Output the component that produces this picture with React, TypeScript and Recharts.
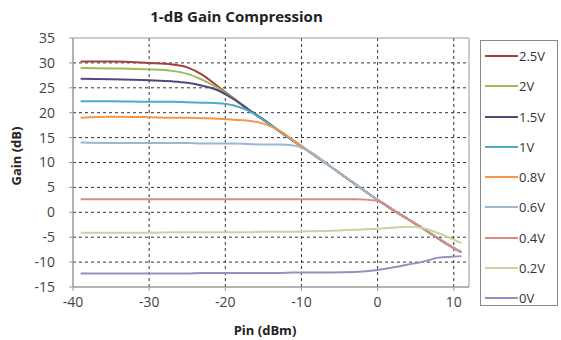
import { CartesianGrid, Line, LineChart, ReferenceArea, XAxis, YAxis } from "recharts";

// input power sweep (dBm) shared by every trace
const PIN = [-39, -35, -30, -27, -25, -23, -21, -19, -17, -15, -13, -11, -9, -6, -3, 0, 2, 4, 6, 8, 10, 11];

const G_2V5 = [30.3, 30.3, 30.0, 29.7, 29.1, 27.6, 25.3, 23.0, 20.7, 18.6, 16.4, 14.3, 12.2, 9.0, 5.7, 2.5, 0.5, -1.4, -3.3, -5.3, -7.2, -8.0];
const G_2V = [29.0, 28.9, 28.7, 28.4, 27.8, 26.6, 25.0, 22.9, 20.7, 18.6, 16.4, 14.3, 12.2, 9.0, 5.7, 2.5, 0.5, -1.4, -3.3, -5.3, -7.2, -8.0];
const G_1V5 = [26.8, 26.7, 26.5, 26.3, 26.0, 25.4, 24.5, 22.8, 20.7, 18.6, 16.4, 14.3, 12.2, 9.0, 5.7, 2.5, 0.5, -1.4, -3.3, -5.3, -7.2, -8.0];
const G_1V = [22.3, 22.3, 22.2, 22.2, 22.1, 22.0, 21.9, 21.5, 20.4, 18.5, 16.4, 14.3, 12.2, 9.0, 5.7, 2.5, 0.5, -1.4, -3.3, -5.3, -7.2, -8.0];
const G_0V8 = [19.0, 19.2, 19.1, 19.0, 19.0, 18.9, 18.8, 18.6, 18.4, 17.8, 16.5, 14.4, 12.2, 9.0, 5.7, 2.5, 0.5, -1.4, -3.3, -5.3, -7.2, -8.0];
const G_0V6 = [14.0, 13.9, 13.9, 13.9, 13.9, 13.8, 13.8, 13.8, 13.7, 13.6, 13.6, 13.4, 12.3, 9.0, 5.7, 2.5, 0.5, -1.4, -3.3, -5.3, -7.2, -8.0];
const G_0V4 = [2.6, 2.6, 2.6, 2.6, 2.6, 2.6, 2.6, 2.6, 2.6, 2.6, 2.6, 2.6, 2.6, 2.6, 2.6, 2.3, 0.5, -1.4, -3.3, -5.3, -7.2, -8.0];
const G_0V2 = [-4.1, -4.1, -4.1, -4.0, -4.0, -4.0, -4.0, -4.0, -4.0, -3.9, -3.9, -3.9, -3.8, -3.7, -3.5, -3.3, -3.1, -2.9, -3.2, -4.2, -5.5, -6.2];
const G_0V = [-12.3, -12.3, -12.3, -12.3, -12.3, -12.2, -12.2, -12.2, -12.2, -12.2, -12.2, -12.1, -12.1, -12.1, -12.0, -11.6, -11.1, -10.5, -9.9, -9.1, -8.9, -8.8];

const SERIES = [
  { key: "v25", name: "2.5V", color: "#a3403e", values: G_2V5 },
  { key: "v20", name: "2V", color: "#9bbb59", values: G_2V },
  { key: "v15", name: "1.5V", color: "#55467e", values: G_1V5 },
  { key: "v10", name: "1V", color: "#4bacc6", values: G_1V },
  { key: "v08", name: "0.8V", color: "#f79646", values: G_0V8 },
  { key: "v06", name: "0.6V", color: "#9db6d6", values: G_0V6 },
  { key: "v04", name: "0.4V", color: "#d98a88", values: G_0V4 },
  { key: "v02", name: "0.2V", color: "#c3d69b", values: G_0V2 },
  { key: "v00", name: "0V", color: "#9c8dc0", values: G_0V },
];

const X_TICKS = [-40, -30, -20, -10, 0, 10];
const Y_TICKS = [-15, -10, -5, 0, 5, 10, 15, 20, 25, 30, 35];

const rows = PIN.map((pin, i) => {
  const row: Record<string, number> = { pin };
  SERIES.forEach((s) => (row[s.key] = s.values[i]));
  return row;
});

const font = '"Open Sans", "DejaVu Sans", sans-serif';
const tick = { fontSize: 14, fill: "#444", fontFamily: font };

export default function App() {
  return (
    <div style={{ position: "absolute", left: 0, top: 0, width: 561, height: 340, background: "#fff", fontFamily: font }}>
      <div style={{ position: "absolute", left: 0, width: 473, top: 6, textAlign: "center", fontSize: 15, fontWeight: 700, color: "#222" }}>
        1-dB Gain Compression
      </div>
      <div
        style={{
          position: "absolute",
          left: 16,
          top: 156,
          transform: "translate(-50%, -50%) rotate(-90deg)",
          fontSize: 13,
          fontWeight: 700,
          color: "#222",
          whiteSpace: "nowrap",
        }}
      >
        Gain (dB)
      </div>
      <div style={{ position: "absolute", left: 265, top: 330, transform: "translate(-50%, -50%)", fontSize: 13, fontWeight: 700, color: "#222", whiteSpace: "nowrap" }}>
        Pin (dBm)
      </div>

      <LineChart width={561} height={340} data={rows} margin={{ top: 38, right: 92, bottom: 23, left: 33 }}>
        <CartesianGrid
          stroke="#333"
          strokeDasharray="3 3"
          horizontalValues={[-10, -5, 0, 5, 10, 15, 20, 25, 30]}
          verticalValues={[-30, -20, -10, 0, 10]}
        />
        <ReferenceArea x1={-40} x2={12} y1={-15} y2={35} fill="none" stroke="#999" strokeWidth={1} ifOverflow="visible" />
        <XAxis
          dataKey="pin"
          type="number"
          domain={[-40, 12]}
          ticks={X_TICKS}
          allowDataOverflow
          height={30}
          tick={tick}
          tickSize={4}
          tickMargin={6}
          stroke="#999"
        />
        <YAxis
          type="number"
          domain={[-15, 35]}
          ticks={Y_TICKS}
          allowDataOverflow
          width={40}
          tick={tick}
          tickSize={4}
          tickMargin={14}
          stroke="#999"
        />
        {SERIES.map((s) => (
          <Line
            key={s.key}
            dataKey={s.key}
            name={s.name}
            type="monotone"
            stroke={s.color}
            strokeWidth={2}
            dot={false}
            isAnimationActive={false}
          />
        ))}
      </LineChart>

      <div style={{ position: "absolute", left: 480, top: 40, width: 76, height: 264, border: "1px solid #888" }}>
        {SERIES.map((s, i) => (
          <div key={s.key} style={{ position: "absolute", left: 4, top: 15 + i * 30.25, transform: "translateY(-50%)", display: "flex", alignItems: "center" }}>
            <div style={{ width: 33, height: 2, background: s.color }} />
            <span style={{ fontSize: 13, color: "#333", marginLeft: 1 }}>{s.name}</span>
          </div>
        ))}
      </div>
    </div>
  );
}
